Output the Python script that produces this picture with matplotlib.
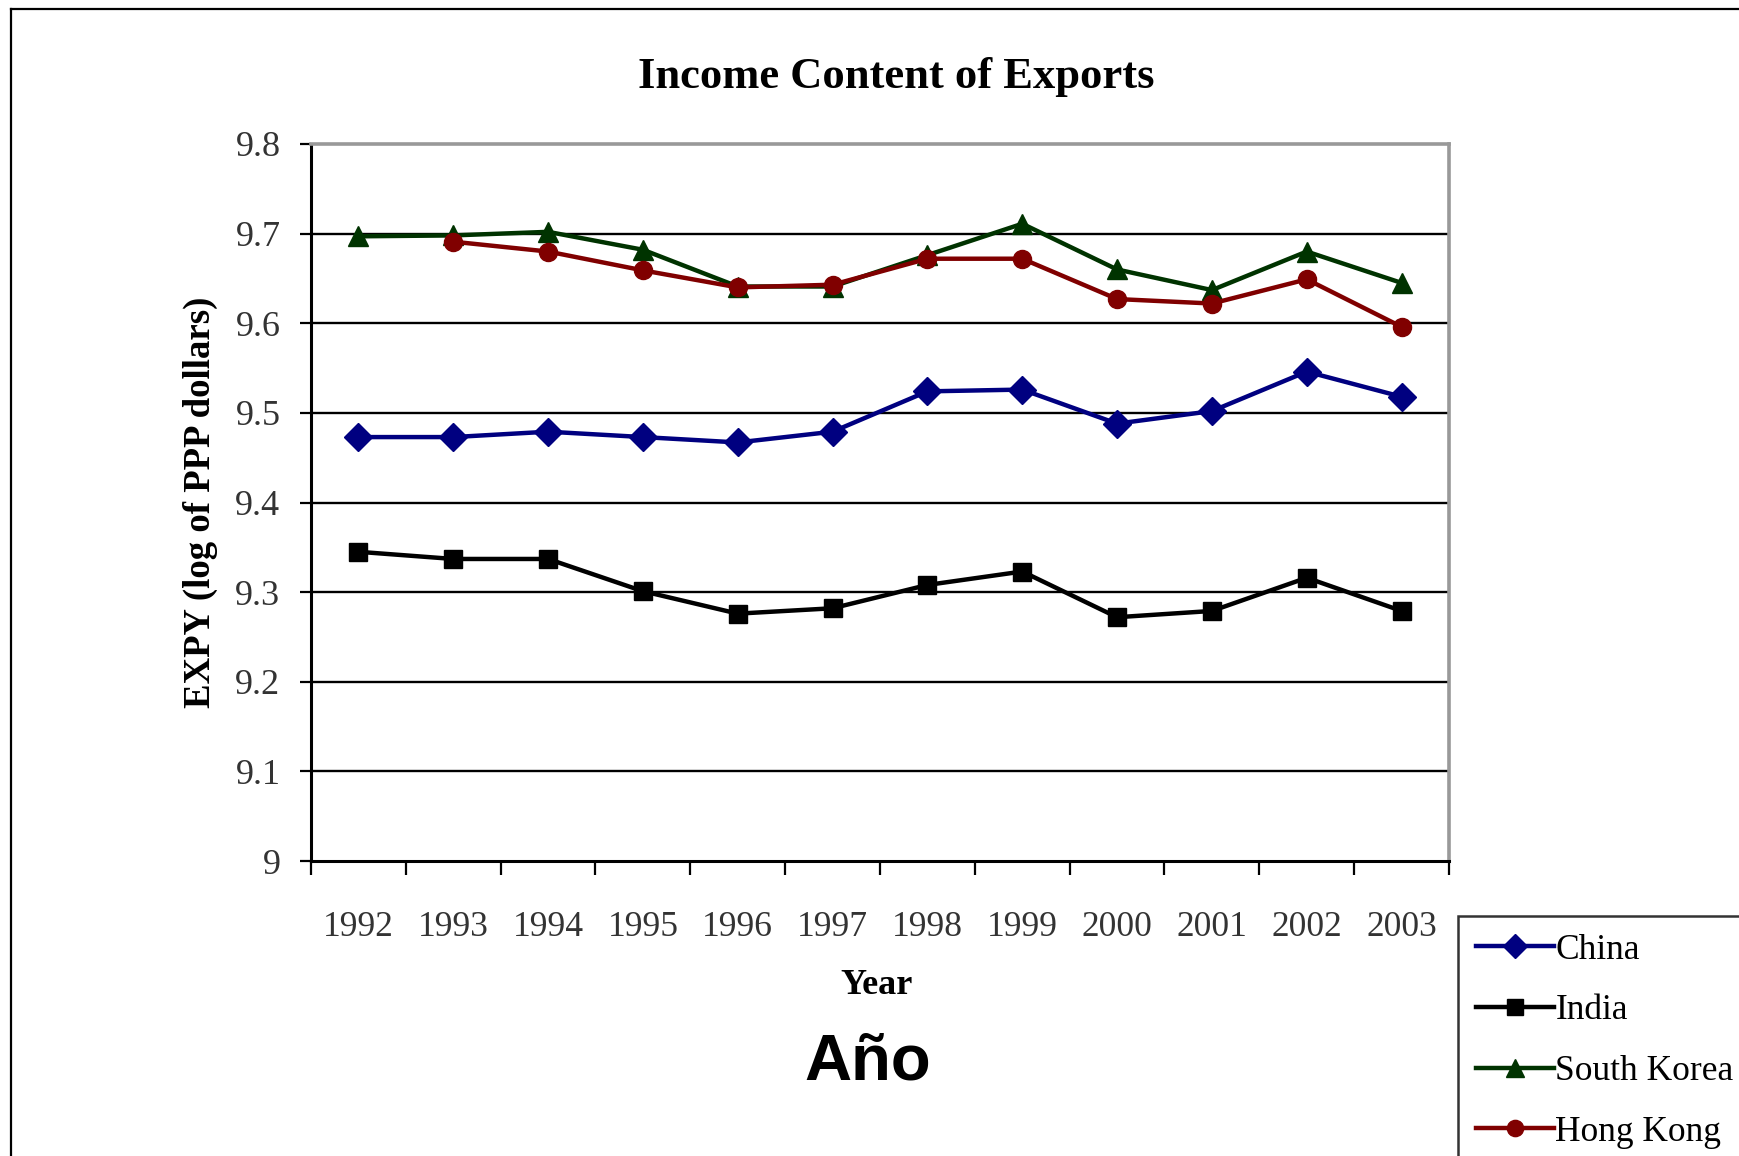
import matplotlib
matplotlib.use("Agg")
import matplotlib.pyplot as plt
import numpy as np
from matplotlib.lines import Line2D

years = ["1992", "1993", "1994", "1995", "1996", "1997", "1998", "1999", "2000", "2001", "2002", "2003"]
china = [9.473, 9.473, 9.479, 9.473, 9.467, 9.479, 9.524, 9.526, 9.488, 9.502, 9.546, 9.518]
india = [9.345, 9.337, 9.337, 9.301, 9.276, 9.282, 9.308, 9.323, 9.272, 9.279, 9.316, 9.279]
south_korea = [9.697, 9.698, 9.702, 9.682, 9.641, 9.641, 9.676, 9.711, 9.660, 9.637, 9.680, 9.645]
hong_kong = [np.nan, 9.691, 9.680, 9.659, 9.640, 9.643, 9.672, 9.672, 9.627, 9.622, 9.649, 9.596]
yticks = [9.0, 9.1, 9.2, 9.3, 9.4, 9.5, 9.6, 9.7, 9.8]
ytick_labels = ["9", "9.1", "9.2", "9.3", "9.4", "9.5", "9.6", "9.7", "9.8"]

W, H = 1740, 1156
fig = plt.figure(figsize=(W / 100, H / 100), dpi=100)
serif = "Liberation Serif"

L, R, T, B = 311, 1449, 144, 861
ax = fig.add_axes([L / W, 1 - B / H, (R - L) / W, (B - T) / H])

x = np.arange(len(years))
series = [
    ("China", china, "#000080", "D", 14),
    ("India", india, "#000000", "s", 13),
    ("South Korea", south_korea, "#003300", "^", 15),
    ("Hong Kong", hong_kong, "#800000", "o", 13),
]
handles = []
for name, vals, col, mk, ms in series:
    h, = ax.plot(x, vals, color=col, lw=3.2, marker=mk, ms=ms, mfc=col, mec=col, label=name, zorder=3)
    handles.append(h)

ax.set_xlim(-0.5, len(years) - 0.5)
ax.set_ylim(9.0, 9.8)
ax.set_yticks(yticks)
ax.set_yticklabels(ytick_labels, family=serif, fontsize=26, color="#333333")
for yv in yticks[1:-1]:
    ax.axhline(yv, color="black", lw=1.7, zorder=1)

ax.set_xticks(np.arange(len(years) + 1) - 0.5)
ax.set_xticklabels([])
ax.set_xticks(x, minor=True)
ax.set_xticklabels(years, minor=True, family=serif, fontsize=25.5, color="#333333")
ax.tick_params(axis="x", which="major", direction="out", length=10, width=1.6, color="black")
ax.tick_params(axis="x", which="minor", length=0, pad=36)
ax.tick_params(axis="y", direction="out", length=8, width=1.6, color="black", pad=14)

for s in ["left", "bottom"]:
    ax.spines[s].set_color("black")
    ax.spines[s].set_linewidth(2.2)
for s in ["top", "right"]:
    ax.spines[s].set_color("#999999")
    ax.spines[s].set_linewidth(2.6)

fig.text(896 / W, 1 - 77 / H, "Income Content of Exports", family=serif, fontweight="bold",
         fontsize=32, ha="center", va="center")
fig.text(200 / W, 1 - ((T + B) / 2) / H, "EXPY (log of PPP dollars)", family=serif, fontweight="bold",
         fontsize=26.5, rotation=90, ha="center", va="center")
fig.text(877 / W, 1 - 986 / H, "Year", family=serif, fontweight="bold", fontsize=26, ha="center", va="center")
fig.text(868 / W, 1 - 1062 / H, "Año", family="Liberation Sans", fontweight="bold", fontsize=47,
         ha="center", va="center")

leg = fig.legend(handles=handles, loc="upper left", bbox_to_anchor=(1458 / W, 1 - 916 / H),
                 prop={"family": serif, "size": 25.5}, frameon=True, fancybox=False,
                 edgecolor="black", handlelength=2.2, handletextpad=0.05, labelspacing=0.78,
                 borderpad=0.5, borderaxespad=0, markerscale=0.9)
leg.get_frame().set_linewidth(1.8)

fig.add_artist(Line2D([11 / W, 11 / W], [0, 1 - 9 / H], color="black", lw=1.6, transform=fig.transFigure))
fig.add_artist(Line2D([11 / W, 1], [1 - 9 / H, 1 - 9 / H], color="black", lw=1.6, transform=fig.transFigure))

fig.savefig("out.png", dpi=100, facecolor="white")
